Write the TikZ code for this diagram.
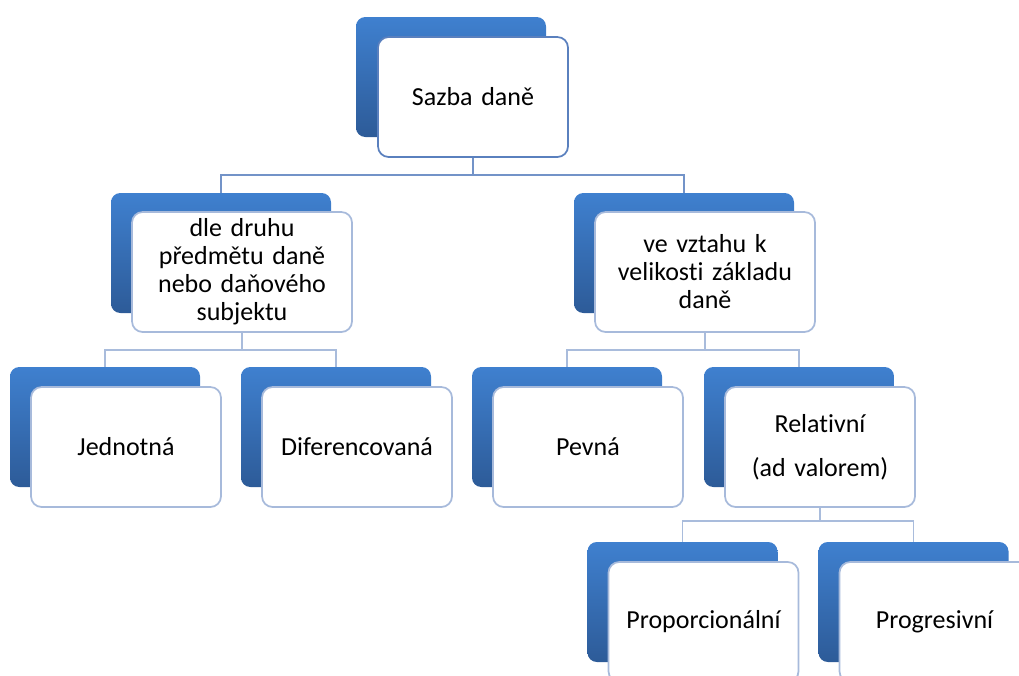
\documentclass[tikz,border=0pt]{standalone}
\usepackage{fontspec}
\setmainfont{Carlito}[Ligatures=NoCommon]
\definecolor{boxtop}{HTML}{3F80CF}
\definecolor{boxbot}{HTML}{2D5B98}
\definecolor{edgetop}{HTML}{5A80BE}
\definecolor{edgelow}{HTML}{A7BADB}
\definecolor{linetop}{HTML}{7393C8}
\definecolor{linelow}{HTML}{A9BCDC}
\begin{document}
\begin{tikzpicture}[x=0.75pt,y=-0.75pt,
  back/.style={rounded corners=7pt,top color=boxtop,bottom color=boxbot,minimum width=142.5pt,minimum height=90pt,inner sep=0pt},
  front/.style={rounded corners=8pt,draw=edgelow,line width=1.3pt,fill=white,minimum width=142.5pt,minimum height=90pt,inner sep=2pt,align=center,text width=138pt,font=\fontsize{19.5}{21}\selectfont},
  wide/.style={minimum width=165pt,text width=158pt},
  conn/.style={draw=linelow,line width=1.2pt}]
\clip (0,0) rectangle (1019,675);
\node[back] (sazba-b) at (451,77) {};
\node[front,draw=edgetop] (sazba) at (473,97) {Sazba daně};
\node[back,wide] (druh-b) at (221,253) {};
\node[front,wide] (druh) at (242,272) {dle druhu\\předmětu daně\\nebo daňového\\subjektu};
\node[back,wide] (vztah-b) at (684,253) {};
\node[front,wide] (vztah) at (705,272) {ve vztahu k\\velikosti základu\\daně};
\node[back] (jedn-b) at (105,427) {};
\node[front] (jedn) at (126,447) {Jednotná};
\node[back] (dif-b) at (336,427) {};
\node[front] (dif) at (357,447) {Diferencovaná};
\node[back] (pevna-b) at (567,427) {};
\node[front] (pevna) at (588,447) {Pevná};
\node[back] (rel-b) at (799,427) {};
\node[front] (rel) at (820,447) {Relativní\\[12pt](ad valorem)};
\node[back] (prop-b) at (682.5,602) {};
\node[front] (prop) at (703.5,622) {Proporcionální};
\node[back] (prog-b) at (913.5,602) {};
\node[front] (prog) at (934.5,622) {Progresivní};
\draw[conn,draw=linetop] (sazba.south) -- ++(0,17) -| (druh-b.north);
\draw[conn,draw=linetop] (sazba.south) -- ++(0,17) -| (vztah-b.north);
\draw[conn] (druh.south) -- ++(0,17) -| (jedn-b.north);
\draw[conn] (druh.south) -- ++(0,17) -| (dif-b.north);
\draw[conn] (vztah.south) -- ++(0,17) -| (pevna-b.north);
\draw[conn] (vztah.south) -- ++(0,17) -| (rel-b.north);
\draw[conn] (rel.south) -- ++(0,13) -| (prop-b.north);
\draw[conn] (rel.south) -- ++(0,13) -| (prog-b.north);
\end{tikzpicture}
\end{document}
